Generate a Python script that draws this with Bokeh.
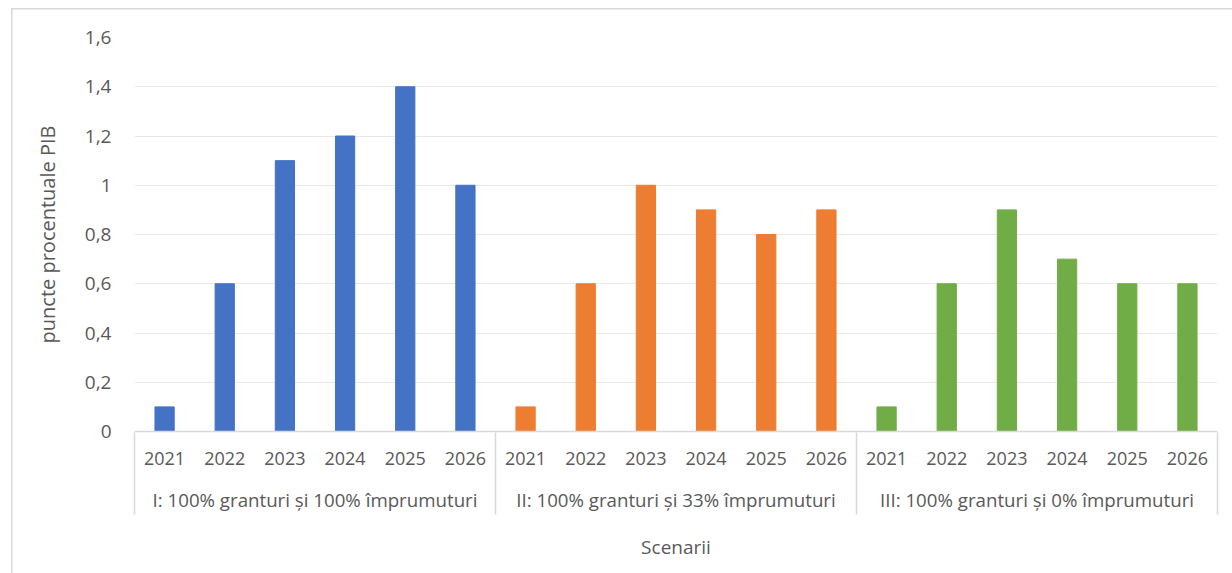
from bokeh.plotting import figure
from bokeh.models import (Range1d, FixedTicker, CustomJSTickFormatter,
                          ColumnDataSource, LinearAxis)
from bokeh.embed import file_html
from bokeh.resources import INLINE

# --- data -------------------------------------------------------------
years = ["2021", "2022", "2023", "2024", "2025", "2026"]
scenarios = [
    "I: 100% granturi și 100% împrumuturi",
    "II: 100% granturi și 33% împrumuturi",
    "III: 100% granturi și 0% împrumuturi",
]
scenario_1 = [0.1, 0.6, 1.1, 1.2, 1.4, 1.0]
scenario_2 = [0.1, 0.6, 1.0, 0.9, 0.8, 0.9]
scenario_3 = [0.1, 0.6, 0.9, 0.7, 0.6, 0.6]
y_ticks = [0, 0.2, 0.4, 0.6, 0.8, 1.0, 1.2, 1.4, 1.6]
colors = ["#4472C4", "#ED7D31", "#70AD47"]

FONT = "Open Sans"
TEXT = "#595959"
LINE = "#d9d9d9"

# one slot per (scenario, year), numbered 1..18 along the x axis
n = len(years)
slots = [g * n + j + 1 for g in range(len(scenarios)) for j in range(n)]
values = scenario_1 + scenario_2 + scenario_3
fills = [c for c in colors for _ in years]
source = ColumnDataSource(dict(x=slots, top=values, color=fills))

group_centers = [g * n + (n + 1) / 2 for g in range(len(scenarios))]
group_edges = [g * n + 0.5 for g in range(len(scenarios) + 1)]

# --- layout (pixels) ----------------------------------------------------
W, H = 1232, 573
left, right, top, bottom = 134, 15, 37, 142
label_depth = 82      # height of the category-label block under the axis

p = figure(
    x_range=Range1d(group_edges[0], group_edges[-1]),
    y_range=Range1d(0, y_ticks[-1]),
    width=W, height=H,
    min_border_left=left, min_border_right=right,
    min_border_top=top, min_border_bottom=bottom,
    output_backend="svg", toolbar_location=None,
)
p.outline_line_color = None
p.background_fill_color = "white"
p.border_fill_alpha = 0
# chart-area border: only its top and left edges fall inside the page
p.styles = {
    "background": (
        f"linear-gradient({LINE},{LINE}) 11px 8px / 1.5px 100% no-repeat, "
        f"linear-gradient({LINE},{LINE}) 11px 8px / 100% 1.5px no-repeat, white"
    )
}

p.vbar(x="x", top="top", width=0.32, color="color", source=source)

# y axis
p.yaxis.ticker = FixedTicker(ticks=y_ticks, minor_ticks=[])
p.yaxis.formatter = CustomJSTickFormatter(
    code="return (Math.round(tick * 10) / 10).toString().replace('.', ',');")
p.yaxis.axis_line_color = None
p.yaxis.major_tick_line_color = None
p.yaxis.minor_tick_line_color = None
p.yaxis.major_tick_out = 0
p.yaxis.major_label_standoff = 23
p.yaxis.major_label_text_font = FONT
p.yaxis.major_label_text_font_size = "19px"
p.yaxis.major_label_text_color = TEXT
p.yaxis.axis_label = "puncte procentuale PIB"
p.yaxis.axis_label_text_font = FONT
p.yaxis.axis_label_text_font_size = "20px"
p.yaxis.axis_label_text_font_style = "normal"
p.yaxis.axis_label_text_color = TEXT
p.yaxis.axis_label_standoff = 21

p.ygrid.grid_line_color = "#e8e8e8"
p.xgrid.grid_line_color = None

# x axis, first row: years
xa = p.xaxis[0]
xa.ticker = FixedTicker(ticks=slots, minor_ticks=[])
xa.formatter = CustomJSTickFormatter(
    args=dict(labels=years),
    code="return labels[(Math.round(tick) - 1) % labels.length];")
xa.axis_line_color = LINE
xa.axis_line_width = 1.5
xa.major_tick_line_color = None
xa.minor_tick_line_color = None
xa.major_tick_out = 0
xa.major_tick_in = 0
xa.major_label_standoff = 20
xa.major_label_text_font = FONT
xa.major_label_text_font_size = "18px"
xa.major_label_text_color = TEXT

# x axis, second row: scenarios
group_axis = LinearAxis(
    ticker=FixedTicker(ticks=group_centers, minor_ticks=[]),
    formatter=CustomJSTickFormatter(
        args=dict(labels=scenarios, n=n),
        code="return labels[Math.floor((tick - 0.5) / n)];"),
    axis_line_color=None, major_tick_line_color=None, minor_tick_line_color=None,
    major_tick_out=0, major_tick_in=0, major_label_standoff=19,
    major_label_text_font=FONT, major_label_text_font_size="18.7px",
    major_label_text_color=TEXT,
)
p.add_layout(group_axis, "below")

# third row: the axis title; its inward minor ticks sit on the group
# boundaries and reach up to the value axis as dividers
title_axis = LinearAxis(
    ticker=FixedTicker(ticks=[], minor_ticks=group_edges),
    axis_line_color=None, major_tick_line_color=None,
    major_tick_out=0, major_tick_in=0, major_label_standoff=0,
    minor_tick_line_color=LINE, minor_tick_line_width=1.5,
    minor_tick_out=0, minor_tick_in=label_depth,
    axis_label="Scenarii", axis_label_text_font=FONT,
    axis_label_text_font_size="19px", axis_label_text_font_style="normal",
    axis_label_text_color=TEXT, axis_label_standoff=19,
)
p.add_layout(title_axis, "below")

open("out.html", "w").write(file_html(p, INLINE))
